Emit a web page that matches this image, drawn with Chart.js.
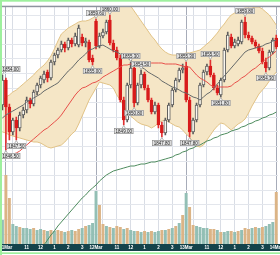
<!DOCTYPE html>
<html>
<head>
<meta charset="utf-8">
<script src="https://cdn.jsdelivr.net/npm/chart.js@4.4.1/dist/chart.umd.min.js"></script>
<style>
  body { margin: 0; background: #fff; }
  canvas { display: block; }
</style>
</head>
<body>
<canvas id="grafico" width="280" height="255"></canvas>
<script>
// barras de 15 minutos
const sessao = ['9:30','9:45','10:00','10:15','10:30','10:45','11:00','11:15','11:30','11:45','12:00','12:15','12:30','12:45',
  '13:00','13:15','13:30','13:45','14:00','14:15','14:30','14:45','15:00','15:15','15:30','15:45'];
const dias = ['11Mar','12Mar','13Mar'];
const horaTexto = { '11:00': '11', '12:00': '12', '13:00': '1', '14:00': '2', '15:00': '3' };

const abertura = [1851.0,1853.5,1850.8,1848.3,1849.5,1848.7,1850.0,1850.5,1851.5,1851.1,1852.3,1853.0,1853.5,1854.3,1853.7,1855.3,
  1856.0,1856.5,1857.1,1856.7,1857.5,1857.1,1857.0,1857.8,1857.2,1857.3,1855.7,1859.4,1856.9,1857.9,1858.3,1859.5,1857.2,1856.5,
  1855.7,1851.5,1849.5,1853.0,1854.7,1851.2,1853.0,1854.1,1852.7,1851.5,1850.3,1851.0,1849.0,1848.2,1849.5,1851.0,1852.5,1853.5,
  1854.5,1854.9,1851.5,1848.3,1849.5,1851.0,1853.0,1854.3,1854.9,1854.0,1852.7,1852.0,1853.5,1856.5,1857.8,1856.9,1857.1,1857.3,
  1859.3,1858.0,1857.7,1857.3,1856.9,1856.4,1855.3,1854.7,1856.3,1857.7];
const maxima = [1854.0,1853.7,1851.1,1849.7,1849.8,1850.3,1850.8,1851.8,1851.7,1852.5,1853.2,1853.9,1854.4,1854.5,1855.5,1856.2,
  1856.7,1857.4,1857.3,1857.7,1857.7,1858.2,1859.0,1858.1,1857.7,1857.5,1856.0,1859.6,1858.2,1858.6,1859.5,1860.0,1857.5,1856.8,
  1856.0,1851.8,1853.2,1855.3,1854.9,1853.2,1854.5,1854.3,1853.0,1851.7,1851.3,1851.2,1849.3,1849.7,1851.2,1852.7,1853.7,1854.7,
  1855.1,1855.3,1851.8,1849.7,1851.2,1853.2,1854.5,1855.1,1855.5,1854.2,1853.0,1853.7,1856.7,1858.3,1858.1,1857.6,1857.8,1859.5,
  1859.8,1858.3,1857.9,1857.5,1857.1,1856.7,1855.7,1856.5,1857.7,1858.0];
const minimas = [1850.5,1846.5,1847.5,1848.0,1847.5,1848.4,1849.7,1850.2,1850.7,1850.9,1852.0,1852.7,1853.2,1853.3,1853.5,1855.0,
  1855.7,1856.3,1856.3,1856.5,1856.8,1856.9,1856.8,1856.9,1856.8,1855.3,1855.0,1856.6,1856.7,1857.7,1858.1,1857.0,1856.3,1855.5,
  1851.3,1849.0,1849.3,1852.7,1850.8,1851.0,1852.7,1852.5,1851.3,1850.1,1850.1,1848.7,1847.8,1848.0,1849.3,1850.8,1852.3,1853.3,
  1854.2,1851.3,1847.8,1848.1,1849.3,1850.8,1852.8,1854.0,1853.8,1852.5,1852.0,1851.8,1853.3,1856.3,1856.7,1856.7,1856.9,1857.1,
  1857.7,1857.5,1857.1,1856.7,1856.2,1855.1,1854.3,1854.5,1856.1,1856.6];
const fechamento = [1853.5,1850.8,1848.3,1849.5,1848.7,1850.0,1850.5,1851.5,1851.1,1852.3,1853.0,1853.7,1854.1,1853.7,1855.3,1856.0,
  1856.5,1857.1,1856.7,1857.5,1857.1,1857.9,1858.7,1857.2,1857.4,1855.5,1855.3,1856.9,1857.9,1858.3,1859.3,1857.2,1856.5,1855.7,
  1851.5,1849.5,1853.0,1854.7,1851.2,1853.0,1854.1,1852.7,1851.5,1850.3,1851.0,1849.0,1848.2,1849.5,1851.0,1852.5,1853.5,1854.5,
  1854.7,1851.5,1848.3,1849.5,1851.0,1853.0,1854.3,1854.9,1854.0,1852.7,1852.2,1853.5,1856.5,1858.0,1856.9,1857.3,1857.5,1859.3,
  1858.0,1857.7,1857.3,1856.9,1856.4,1855.3,1854.7,1856.3,1857.5,1856.8];
const volume = [240,690,460,200,180,170,160,160,150,160,140,150,140,130,140,130,140,130,120,130,140,130,150,160,180,190,210,530,390,
  200,180,170,160,180,170,150,160,140,130,130,120,130,120,130,120,130,140,140,150,160,180,210,290,510,370,190,180,170,160,160,150,
  150,140,120,120,130,130,120,130,140,160,150,160,170,160,170,180,200,220,520];
// a = azulado, m = marrom
const corVolume = ('ammaamaaam' + 'aamamammam' + 'ammamaaamm' + 'amammamaam' + 'amamaamama' +
  'mamammaaaa' + 'mmamaamama' + 'mmamamaaam').split('');

// bandas de bollinger e medias
const bandaSup = [1851.5,1851.8,1852.0,1852.3,1852.5,1852.8,1853.1,1853.4,1853.7,1854.0,1854.4,1854.7,1855.0,1855.4,1855.9,1856.6,
  1857.4,1858.1,1858.4,1858.7,1858.9,1859.1,1859.3,1859.4,1859.4,1859.5,1859.7,1859.9,1860.0,1860.3,1860.5,1860.7,1860.9,1861.0,
  1861.1,1861.2,1861.1,1860.9,1860.4,1859.9,1859.4,1858.9,1858.4,1857.9,1857.5,1857.0,1856.6,1856.3,1856.1,1856.0,1856.0,1856.1,
  1856.1,1856.2,1856.2,1856.3,1856.4,1856.5,1856.8,1857.1,1857.4,1857.8,1858.2,1858.7,1859.1,1859.6,1860.0,1860.2,1860.4,1860.6,
  1860.7,1860.7,1860.7,1860.8,1860.8,1860.6,1860.3,1860.0,1859.5,1859.0];
const bandaInf = [1848.3,1848.2,1848.0,1847.9,1847.8,1847.7,1847.6,1847.5,1847.4,1847.3,1847.3,1847.2,1847.0,1846.8,1846.7,1846.8,
  1846.9,1847.0,1847.3,1847.7,1848.1,1848.4,1849.1,1849.9,1850.7,1851.5,1852.1,1852.7,1853.3,1853.2,1853.1,1853.0,1852.7,1852.0,
  1851.5,1850.9,1850.3,1849.9,1849.6,1849.3,1849.1,1849.0,1848.9,1848.7,1848.9,1849.2,1849.4,1849.5,1849.3,1849.1,1848.9,1848.8,
  1848.5,1848.1,1847.8,1847.2,1846.9,1846.8,1847.0,1847.5,1848.0,1848.5,1848.9,1849.2,1849.1,1848.8,1848.5,1848.8,1849.1,1849.3,
  1849.6,1850.2,1850.9,1851.5,1852.1,1852.5,1852.9,1853.4,1853.9,1854.3];
const media20 = [1849.7,1850.0,1850.2,1850.4,1850.6,1850.8,1851.0,1851.3,1851.5,1851.7,1851.9,1852.1,1852.4,1852.6,1852.8,1853.0,
  1853.2,1853.6,1854.0,1854.4,1854.7,1855.1,1855.5,1855.8,1856.1,1856.5,1856.6,1856.8,1856.9,1857.0,1856.8,1856.6,1856.4,1856.3,
  1856.1,1855.9,1855.7,1855.5,1855.2,1855.0,1854.8,1854.6,1854.3,1854.1,1853.9,1853.7,1853.4,1853.2,1853.0,1852.8,1852.7,1852.5,
  1852.3,1852.2,1852.0,1851.8,1851.7,1851.5,1851.8,1852.1,1852.3,1852.7,1853.1,1853.5,1853.9,1854.3,1854.7,1855.1,1855.5,1855.9,
  1856.3,1856.5,1856.6,1856.7,1856.8,1856.9,1857.1,1857.2,1857.4,1857.5];
const media50 = [1845.7,1845.8,1846.0,1846.1,1846.2,1846.4,1846.7,1847.0,1847.3,1847.6,1847.9,1848.2,1848.5,1848.7,1849.0,1849.3,
  1849.6,1850.0,1850.5,1851.0,1851.5,1852.0,1852.4,1852.7,1852.8,1853.0,1853.2,1853.3,1853.5,1853.8,1854.0,1854.2,1854.4,1854.6,
  1854.8,1855.0,1855.0,1855.1,1855.1,1855.1,1855.2,1855.2,1855.2,1855.2,1855.2,1855.2,1855.2,1855.1,1855.1,1855.1,1855.1,1855.0,
  1854.9,1854.8,1854.8,1854.4,1854.0,1853.7,1853.5,1853.3,1853.0,1852.8,1852.8,1852.8,1852.8,1852.8,1852.9,1853.2,1853.4,1853.7,
  1853.9,1854.2,1854.5,1854.7,1855.0,1855.3,1855.6,1855.8,1856.1,1856.4];
const media200 = [null,null,null,null,null,null,null,null,null,null,null,1836.5,1837.0,1837.5,1838.0,1838.4,1838.9,1839.3,1839.7,
  1840.1,1840.5,1840.9,1841.3,1841.7,1842.0,1842.4,1842.7,1843.0,1843.4,1843.7,1844.0,1844.2,1844.4,1844.5,1844.6,1844.7,1844.8,
  1844.9,1844.9,1845.0,1845.1,1845.1,1845.2,1845.3,1845.3,1845.4,1845.5,1845.6,1845.7,1845.8,1846.0,1846.1,1846.3,1846.4,1846.6,
  1846.7,1846.9,1847.0,1847.2,1847.4,1847.5,1847.7,1847.8,1848.0,1848.1,1848.2,1848.4,1848.5,1848.6,1848.8,1848.9,1849.1,1849.2,
  1849.4,1849.5,1849.7,1849.8,1850.0,1850.1,1850.3];

// barras com etiqueta de preco: [indice, 'h' maxima / 'l' minima]
const rotulos = [[0,'h'],[1,'l'],[4,'l'],[26,'l'],[27,'h'],[31,'h'],[35,'l'],[37,'h'],[38,'l'],[40,'h'],[46,'l'],[53,'h'],
  [54,'l'],[60,'h'],[63,'l'],[70,'h'],[76,'l']];

const labels = ['10Mar 15:45'];
dias.forEach(d => sessao.forEach(t => labels.push(d + ' ' + t)));
labels.push('14Mar 9:30');

function sobe(i) { return fechamento[i] >= abertura[i]; }

function textoTick(i) {
  const partes = labels[i].split(' ');
  if (partes[1] === '9:30') return partes[0];
  return horaTexto[partes[1]] || '';
}

function corGrade(i) {
  const t = labels[i].split(' ')[1];
  if (t === '9:30') return '#a7acb9';
  if (t.endsWith(':00')) return '#d9dde5';
  return 'rgba(0,0,0,0)';
}

const moldura = {
  id: 'moldura',
  beforeDraw(chart) {
    const { ctx, chartArea } = chart;
    ctx.save();
    ctx.fillStyle = '#fff';
    ctx.fillRect(0, 0, chart.width, chart.height);
    ctx.fillStyle = '#14434b';
    ctx.fillRect(0, chartArea.bottom, chart.width, 7);
    ctx.restore();
  },
  afterDraw(chart) {
    const { ctx } = chart;
    ctx.save();
    ctx.fillStyle = '#8e939e';
    ctx.fillRect(0, 5.7, chart.width, 1.5);
    ctx.fillStyle = '#9ef09e';
    ctx.fillRect(0, 0, chart.width, 1.7);
    ctx.fillRect(0, 0, 2, chart.height);
    ctx.fillRect(0, 252.3, chart.width, 1.7);
    ctx.restore();
  }
};

const etiquetas = {
  id: 'etiquetas',
  afterDatasetsDraw(chart) {
    const { ctx } = chart;
    const xs = chart.scales.x, ys = chart.scales.y;
    ctx.save();
    ctx.font = '4.5px "Liberation Sans"';
    ctx.textAlign = 'center';
    ctx.textBaseline = 'middle';
    rotulos.forEach(([i, tipo]) => {
      const valor = tipo === 'h' ? maxima[i] : minimas[i];
      const x = xs.getPixelForValue(i);
      const y = ys.getPixelForValue(valor);
      const txt = valor.toFixed(2);
      const w = ctx.measureText(txt).width + 3, h = 6;
      let bx = Math.max(1, x - w / 2);
      const by = tipo === 'h' ? y - 3 - h : y + 3;
      // ponteiro
      ctx.fillStyle = '#fff';
      ctx.strokeStyle = '#858585';
      ctx.lineWidth = 0.6;
      ctx.beginPath();
      if (tipo === 'h') { ctx.moveTo(x - 1.5, by + h); ctx.lineTo(x, y - 0.5); ctx.lineTo(x + 1.5, by + h); }
      else { ctx.moveTo(x - 1.5, by); ctx.lineTo(x, y + 0.5); ctx.lineTo(x + 1.5, by); }
      ctx.fill(); ctx.stroke();
      ctx.fillStyle = '#e4e4e4';
      ctx.fillRect(bx, by, w, h);
      ctx.strokeRect(bx + 0.3, by + 0.3, w - 0.6, h - 0.6);
      ctx.fillStyle = '#222';
      ctx.fillText(txt, bx + w / 2, by + h / 2 + 0.3);
    });
    ctx.restore();
  }
};

const linha = (dados, cor, extra) => Object.assign({
  type: 'line', data: dados, borderColor: cor, borderWidth: 1, pointRadius: 0, fill: false, tension: 0, yAxisID: 'y'
}, extra);

new Chart(document.getElementById('grafico'), {
  type: 'bar',
  data: {
    labels: labels,
    datasets: [
      linha(bandaSup, '#e2c386', { fill: '+1', backgroundColor: '#f5e6c6', order: 8 }),
      linha(bandaInf, '#e2c386', { order: 8 }),
      linha(media20, '#666a6a', { order: 1 }),
      linha(media50, '#e8504a', { order: 1 }),
      linha(media200, '#4e8c5e', { order: 1 }),
      {
        label: 'volume', data: volume, yAxisID: 'yv', grouped: false, order: 6,
        backgroundColor: corVolume.map(c => c === 'a' ? '#93bfb5' : '#dbb486'),
        barPercentage: 0.85, categoryPercentage: 1
      },
      {
        label: 'pavio', data: minimas.map((l, i) => [l, maxima[i]]), yAxisID: 'y', grouped: false, order: 3,
        backgroundColor: labels.map((l, i) => sobe(i) ? '#5d5d5d' : '#e03030'), barThickness: 1
      },
      {
        label: 'corpo', data: abertura.map((o, i) => [o, fechamento[i]]), yAxisID: 'y', grouped: false, order: 2,
        backgroundColor: labels.map((l, i) => sobe(i) ? '#fbf7ee' : '#d81b1b'),
        borderColor: labels.map((l, i) => sobe(i) ? '#5d5d5d' : '#d81b1b'),
        borderWidth: 1, borderSkipped: false, barThickness: 3
      }
    ]
  },
  options: {
    responsive: false,
    animation: false,
    layout: { padding: { left: 0.7, right: 2, top: 7, bottom: 4 } },
    plugins: {
      legend: { display: false },
      tooltip: { enabled: false },
      filler: { drawTime: 'beforeDatasetsDraw' }
    },
    scales: {
      x: {
        offset: true,
        grid: { offset: false, drawTicks: false, color: ctx => corGrade(ctx.index), lineWidth: 1 },
        border: { display: false },
        ticks: {
          autoSkip: false, maxRotation: 0, padding: 1.5, color: '#ffffff',
          font: { family: 'Liberation Sans', size: 4.5, weight: 'bold' },
          callback: (v, i) => textoTick(i)
        },
        afterFit(s) { s.height = 7; s.paddingLeft = 0; s.paddingRight = 0; }
      },
      y: { display: false, min: 1837.1, max: 1860.8 },
      yv: { display: false, min: 0, max: 2370 },
      yg: {
        type: 'linear', position: 'left', min: -0.55, max: 15.68, reverse: true,
        ticks: { display: false, stepSize: 1, includeBounds: false },
        grid: { color: '#e3e6ec', drawTicks: false },
        border: { display: false },
        afterFit(s) { s.width = 0; }
      }
    }
  },
  plugins: [moldura, etiquetas]
});
</script>
</body>
</html>
